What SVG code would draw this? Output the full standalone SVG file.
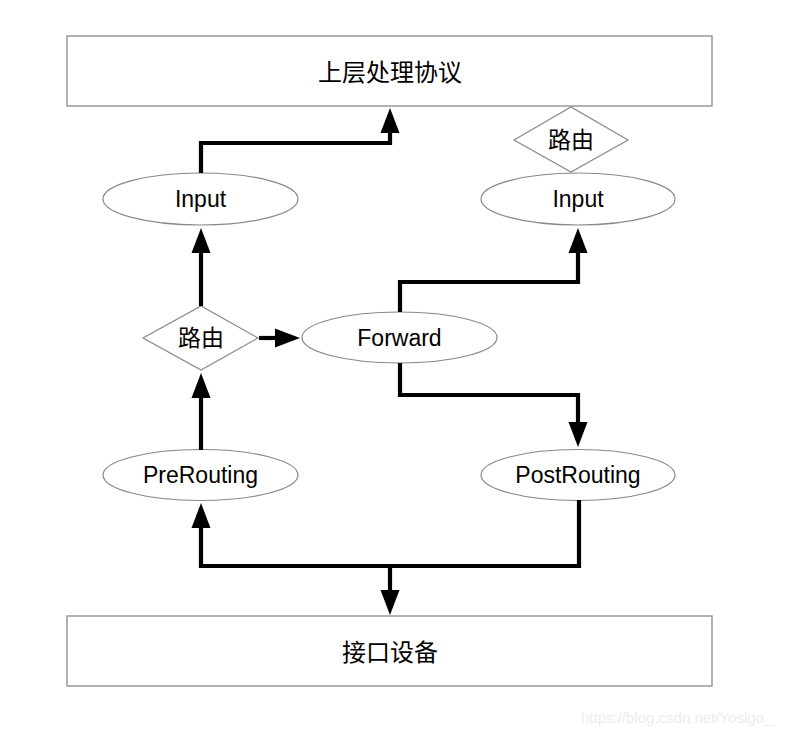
<svg xmlns="http://www.w3.org/2000/svg" width="791" height="731" viewBox="0 0 791 731">
<style>
.box{fill:#fff;stroke:#999;stroke-width:1.5}
.shape{fill:#fff;stroke:#888;stroke-width:1.2}
.lbl{font-family:"Liberation Sans","Noto Sans CJK SC",sans-serif;font-size:23px;fill:#000;text-anchor:middle;dominant-baseline:central}
.big{font-size:24px}
.conn{fill:none;stroke:#000;stroke-width:4.2;stroke-linejoin:miter}
.wm{font-family:"Liberation Sans",sans-serif;font-size:15px;fill:#ececec}
</style>
<defs>
<marker id="arr" markerUnits="userSpaceOnUse" markerWidth="26" markerHeight="20" refX="0" refY="9.5" orient="auto" viewBox="0 0 26 19">
<path d="M0,0 L25,9.5 L0,19 z" fill="#000"/>
</marker>
</defs>
<rect width="791" height="731" fill="#fff"/>
<g id="upper">
<rect class="box" x="67" y="36" width="645" height="70"/>
<text class="lbl big" x="390" y="72">上层处理协议</text>
</g>
<g id="bottom">
<rect class="box" x="67" y="616" width="645" height="70"/>
<text class="lbl big" x="390" y="652">接口设备</text>
</g>
<g id="route-top">
<polygon class="shape" points="514,140 571,107 628,140 571,172"/>
<text class="lbl" x="571" y="140">路由</text>
</g>
<g id="input-left">
<ellipse class="shape" cx="200.5" cy="199" rx="97.5" ry="26"/>
<text class="lbl" x="200.5" y="199">Input</text>
</g>
<g id="input-right">
<ellipse class="shape" cx="578" cy="199" rx="97" ry="26"/>
<text class="lbl" x="578" y="199">Input</text>
</g>
<g id="route-left">
<polygon class="shape" points="143,338 201,306 258,338 201,370"/>
<text class="lbl" x="201" y="338">路由</text>
</g>
<g id="forward">
<ellipse class="shape" cx="399.5" cy="337.5" rx="97.5" ry="25.5"/>
<text class="lbl" x="399.5" y="337.5">Forward</text>
</g>
<g id="prerouting">
<ellipse class="shape" cx="200.5" cy="475" rx="97.5" ry="25.5"/>
<text class="lbl" x="200.5" y="475">PreRouting</text>
</g>
<g id="postrouting">
<ellipse class="shape" cx="578" cy="475" rx="97" ry="25.5"/>
<text class="lbl" x="578" y="475">PostRouting</text>
</g>
<g id="connectors">
<path class="conn" d="M201,173 V143 H390 V133" marker-end="url(#arr)"/>
<path class="conn" d="M201,306 V253" marker-end="url(#arr)"/>
<path class="conn" d="M259,338 H275" marker-end="url(#arr)"/>
<path class="conn" d="M201,450 V398" marker-end="url(#arr)"/>
<path class="conn" d="M400,312 V282 H578 V253" marker-end="url(#arr)"/>
<path class="conn" d="M400,363 V395 H578 V422" marker-end="url(#arr)"/>
<path class="conn" d="M579,500 V566 H201 V528" marker-end="url(#arr)"/>
<path class="conn" d="M390,566 V590" marker-end="url(#arr)"/>
</g>
<text class="wm" x="581" y="723">https://blog.csdn.net/Yosigo_</text>
</svg>
